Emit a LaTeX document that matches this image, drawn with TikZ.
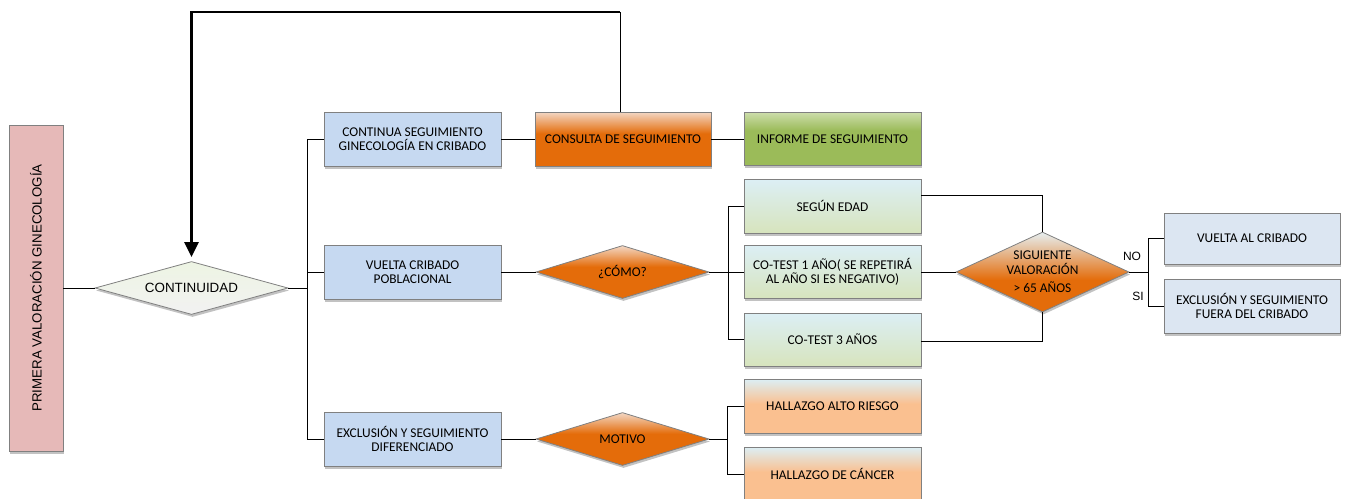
\documentclass[tikz,border=0pt]{standalone}
\usepackage{fontspec}
\setmainfont{Carlito}
\newfontfamily\arialf{Liberation Sans}
\usetikzlibrary{shapes.geometric,shadows,arrows.meta,calc}
\definecolor{orng}{HTML}{E46C0A}
\definecolor{orngtop}{HTML}{F3D7C4}
\definecolor{sigtop}{HTML}{E6EFF1}
\definecolor{grn}{HTML}{9BBB59}
\definecolor{grntop}{HTML}{CCDDAA}
\definecolor{palegrn}{HTML}{D7E4BD}
\definecolor{cyantop}{HTML}{DCEFF5}
\definecolor{peach}{HTML}{FAC090}
\definecolor{bluebox}{HTML}{C6D9F1}
\definecolor{lightblue}{HTML}{DCE6F2}
\definecolor{pinkbox}{HTML}{E6B9B8}
\definecolor{conttop}{HTML}{EDF4E3}
\definecolor{contbot}{HTML}{F2F2F2}
\definecolor{edge}{HTML}{808080}
\pgfdeclareverticalshading{orangeS}{100bp}{color(0bp)=(orng); color(25bp)=(orng); color(55bp)=(orng); color(75bp)=(orngtop); color(100bp)=(orngtop)}
\pgfdeclareverticalshading{sigS}{100bp}{color(0bp)=(orng); color(25bp)=(orng); color(45bp)=(orng); color(75bp)=(sigtop); color(100bp)=(sigtop)}
\pgfdeclareverticalshading{greenS}{100bp}{color(0bp)=(grn); color(25bp)=(grn); color(58bp)=(grn); color(75bp)=(grntop); color(100bp)=(grntop)}
\pgfdeclareverticalshading{paleS}{100bp}{color(0bp)=(palegrn); color(25bp)=(palegrn); color(75bp)=(cyantop); color(100bp)=(cyantop)}
\pgfdeclareverticalshading{peachS}{100bp}{color(0bp)=(peach); color(25bp)=(peach); color(52bp)=(peach); color(75bp)=(cyantop); color(100bp)=(cyantop)}
\pgfdeclareverticalshading{contS}{100bp}{color(0bp)=(contbot); color(25bp)=(contbot); color(75bp)=(conttop); color(100bp)=(conttop)}
\tikzset{
  shad/.style={drop shadow={shadow xshift=1pt,shadow yshift=-2.5pt,opacity=0.4,fill=black!60}},
  box/.style={rectangle,draw=edge,line width=0.8pt,inner sep=0pt,align=center,
    minimum width=177pt,minimum height=54pt,shad,font=\fontsize{13.4}{14.5}\selectfont},
  dia/.style={diamond,draw=edge,line width=0.8pt,inner sep=0pt,align=center,shad,
    font=\fontsize{13.4}{14.5}\selectfont},
  con/.style={draw=black,line width=0.8pt},
  fb/.style={draw=black,line width=2.6pt},
  lbl/.style={font=\arialf\fontsize{12}{13}\selectfont,inner sep=0pt}
}
\begin{document}
\begin{tikzpicture}[x=1pt,y=-1pt]
\useasboundingbox (0,0) rectangle (1348,498);
% nodes
\node[box,fill=pinkbox,minimum width=54pt,minimum height=326pt,font=\arialf\fontsize{13.3}{15}\selectfont] (prim) at (36,288) {\rotatebox{90}{PRIMERA VALORACIÓN GINECOLOGÍA}};
\node[dia,shading=contS,minimum width=193pt,minimum height=53pt,aspect=3.6,font=\arialf\fontsize{13.4}{15}\selectfont] (cont) at (191.5,288) {CONTINUIDAD};
\node[box,fill=bluebox] (n1) at (412.5,139) {CONTINUA SEGUIMIENTO\\GINECOLOGÍA EN CRIBADO};
\node[box,fill=bluebox] (n2) at (412.5,272) {VUELTA CRIBADO\\POBLACIONAL};
\node[box,fill=bluebox] (n3) at (412.5,439) {EXCLUSIÓN Y SEGUIMIENTO\\DIFERENCIADO};
\node[box,shading=orangeS,minimum width=176pt] (cons) at (623,139) {CONSULTA DE SEGUIMIENTO};
\node[box,shading=greenS,minimum height=53pt] (inf) at (832.5,139) {INFORME DE SEGUIMIENTO};
\node[dia,shading=orangeS,minimum width=173pt,minimum height=53pt,aspect=3.26] (como) at (622.5,272) {¿CÓMO?};
\node[dia,shading=orangeS,minimum width=173pt,minimum height=53pt,aspect=3.26] (mot) at (622.5,439) {MOTIVO};
\node[box,shading=paleS] (seg) at (832.5,206) {SEGÚN EDAD};
\node[box,shading=paleS,minimum height=53pt] (ct1) at (832.5,272) {CO-TEST 1 AÑO( SE REPETIRÁ\\AL AÑO SI ES NEGATIVO)};
\node[box,shading=paleS,minimum height=53pt] (ct3) at (832.5,339.5) {CO-TEST 3 AÑOS};
\node[box,shading=peachS] (h1) at (832.5,406) {HALLAZGO ALTO RIESGO};
\node[box,shading=peachS] (h2) at (832.5,474) {HALLAZGO DE CÁNCER};
\node[dia,shading=sigS,minimum width=173pt,minimum height=80pt,aspect=2.16] (sig) at (1042.5,272) {SIGUIENTE\\VALORACIÓN\\[4pt]{>} 65 AÑOS};
\node[box,fill=lightblue,minimum width=176pt,minimum height=51pt] (vac) at (1252,238.5) {VUELTA AL CRIBADO};
\node[box,fill=lightblue,minimum width=176pt] (exf) at (1252,306) {EXCLUSIÓN Y SEGUIMIENTO\\FUERA DEL CRIBADO};
% labels
\node[lbl] (no) at (1132,256) {NO};
\node[lbl] (si) at (1138,296.5) {SI};
% connector coordinates
\coordinate (tr) at (307,288);
\coordinate (br1) at (728,272);
\coordinate (br2) at (727,439);
\coordinate (br3) at (1148,272);
\coordinate (fbR) at (620,12);
\coordinate (segout) at ($(seg.north east)!0.31!(seg.south east)$);
\coordinate (ct3out) at ($(ct3.north east)!0.54!(ct3.south east)$);
% connectors
\draw[con] (prim.east) -- (cont.west);
\draw[con] (cont.east) -- (tr);
\draw[con] (n1.west) -- (n1.west -| tr) -- (n3.west -| tr) -- (n3.west);
\draw[con] (n2.west) -- (n2.west -| tr);
\draw[con] (n1.east) -- (cons.west);
\draw[con] (cons.east) -- (inf.west);
\draw[con] (n2.east) -- (como.west);
\draw[con] (como.east) -- (br1);
\draw[con] (seg.west) -- (seg.west -| br1) -- (ct3.west -| br1) -- (ct3.west);
\draw[con] (ct1.west) -- (ct1.west -| br1);
\draw[con] (n3.east) -- (mot.west);
\draw[con] (mot.east) -- (br2);
\draw[con] (h1.west) -- (h1.west -| br2) -- (h2.west -| br2) -- (h2.west);
\draw[con] (segout) -- (segout -| sig.north) -- (sig.north);
\draw[con] (ct1.east) -- (sig.west);
\draw[con] (ct3out) -- (ct3out -| sig.south) -- (sig.south);
\draw[con] (sig.east) -- (br3);
\draw[con] (vac.west) -- (vac.west -| br3) -- (exf.west -| br3) -- (exf.west);
% feedback arrow
\draw[con] (cons.north -| fbR) -- (fbR);
\draw[fb,-{Triangle[length=15pt,width=14pt]},shorten >=4pt] (fbR) -- (fbR -| cont.north) -- (cont.north);
\end{tikzpicture}
\end{document}
